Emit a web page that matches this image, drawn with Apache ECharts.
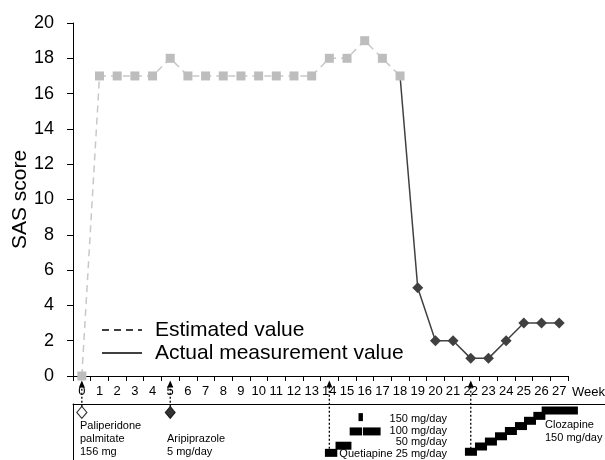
<!DOCTYPE html>
<html>
<head>
<meta charset="utf-8">
<script src="https://cdn.jsdelivr.net/npm/echarts@6/dist/echarts.min.js"></script>
<style>html,body{margin:0;padding:0;background:#fff}#c{width:605px;height:460px}</style>
</head>
<body>
<div id="c"></div>
<script>
// ---- data ----
const weeks = ['0','1','2','3','4','5','6','7','8','9','10','11','12','13','14','15','16','17','18','19','20','21','22','23','24','25','26','27'];
const estimatedSAS = [0,17,17,17,17,18,17,17,17,17,17,17,17,17,18,18,19,18,17,null,null,null,null,null,null,null,null,null];
const actualSAS = [null,null,null,null,null,null,null,null,null,null,null,null,null,null,null,null,null,null,17,5,2,2,1,1,2,3,3,3];
const yTicks = [0,2,4,6,8,10,12,14,16,18,20];
// quetiapine: [startWeek, endWeek, dose mg/day]
const quetiapine = [[13.75,14.45,25],[14.35,15.25,50],[15.15,15.85,100],[15.9,16.9,100],[15.65,15.9,150]];
// clozapine titration: [startWeek, endWeek, dose mg/day]
const clozapine = [[21.67,22.35,25],[22.24,22.92,41],[22.8,23.48,56],[23.37,24.05,72],[23.93,24.61,88],[24.5,25.18,103],[25.01,25.69,119],[25.54,26.22,134],[26.01,28.06,150]];
// drug start events: [week, filled]
const events = [[0,0],[5,1]];
// arrows: [week, fromLevel, toLevel]
const arrows = [[0,0.95,1.42],[5,0.95,1.42],[14,0.2,1.42],[22,0.2,1.42]];

const FONT = '"Liberation Sans", Arial, sans-serif';
const chart = echarts.init(document.getElementById('c'));

function barItem(params, api){
  const s = api.coord([api.value(0), api.value(2)]);
  const e = api.coord([api.value(1), api.value(2)]);
  return {type:'rect', shape:{x:s[0], y:s[1]-4, width:e[0]-s[0], height:8}, style:{fill:'#000'}};
}

const option = {
  animation:false,
  backgroundColor:'#fff',
  textStyle:{fontFamily:FONT},
  grid:[
    {left:73, right:37, top:23, bottom:84, containLabel:false, outerBoundsMode:'none'},
    {left:73, right:0, top:404, bottom:0, containLabel:false, outerBoundsMode:'none'}
  ],
  xAxis:[
    {type:'category', data:weeks, gridIndex:0, boundaryGap:true,
     axisLine:{lineStyle:{color:'#000', width:1}},
     axisTick:{show:true, inside:false, length:5, lineStyle:{color:'#000'}},
     axisLabel:{interval:0, margin:9, fontSize:13, color:'#000', fontFamily:FONT},
     splitLine:{show:false}},
    {type:'value', gridIndex:1, min:-0.5, max:-0.5+532/(495/28), position:'top',
     axisLine:{show:true, onZero:false, lineStyle:{color:'#000', width:1}},
     axisTick:{show:false}, axisLabel:{show:false}, splitLine:{show:false}}
  ],
  yAxis:[
    {type:'value', gridIndex:0, min:0, max:20, interval:2,
     name:'SAS score', nameLocation:'middle', nameGap:42, nameMoveOverlap:false,
     nameTextStyle:{fontSize:21, color:'#000', fontFamily:FONT},
     axisLine:{show:true, lineStyle:{color:'#000', width:1}},
     axisTick:{show:true, inside:false, length:6, lineStyle:{color:'#000'}},
     axisLabel:{fontSize:18, color:'#000', margin:19, fontFamily:FONT,
       formatter:v=>yTicks.includes(v)?String(v):''},
     splitLine:{show:false}},
    {type:'value', gridIndex:1, min:0, max:196, show:false},
    {type:'value', gridIndex:1, min:0, max:170, show:false},
    {type:'value', gridIndex:1, min:0, max:1, position:'left',
     axisLine:{show:true, onZero:false, lineStyle:{color:'#000', width:1}},
     axisTick:{show:false}, axisLabel:{show:false}, splitLine:{show:false}}
  ],
  series:[
    {name:'Actual measurement value', type:'line', xAxisIndex:0, yAxisIndex:0, z:2,
     data: actualSAS.map((v,i)=> i===18 ? {value:v, symbol:'none'} : v),
     symbol:'diamond', symbolSize:11, showAllSymbol:true,
     lineStyle:{color:'#404040', width:1.5},
     itemStyle:{color:'#404040'}},
    {name:'Estimated value', type:'line', xAxisIndex:0, yAxisIndex:0, z:3,
     data: estimatedSAS,
     symbol:'rect', symbolSize:9, showAllSymbol:true,
     lineStyle:{color:'#c8c8c8', width:1.5, type:[7,5]},
     itemStyle:{color:'#bdbdbd'}},
    {type:'custom', xAxisIndex:1, yAxisIndex:1, clip:false, data:quetiapine,
     encode:{x:[0,1], y:2}, renderItem:barItem},
    {type:'custom', xAxisIndex:1, yAxisIndex:2, clip:false, data:clozapine,
     encode:{x:[0,1], y:2}, renderItem:barItem},
    {type:'custom', xAxisIndex:1, yAxisIndex:3, clip:false, data:arrows, z:5,
     encode:{x:0, y:[1,2]},
     renderItem:function(params, api){
       const a = api.coord([api.value(0), api.value(1)]);
       const b = api.coord([api.value(0), api.value(2)]);
       return {type:'group', children:[
         {type:'line', shape:{x1:a[0], y1:a[1], x2:b[0], y2:b[1]+6},
          style:{stroke:'#000', lineWidth:1.3, lineDash:[2,2]}},
         {type:'polygon', shape:{points:[[b[0],b[1]],[b[0]-3,b[1]+7],[b[0]+3,b[1]+7]]},
          style:{fill:'#000'}}
       ]};
     }},
    {type:'scatter', xAxisIndex:1, yAxisIndex:3, z:6, clip:false,
     data: events.map(e=>({value:[e[0],0.85],
       itemStyle: e[1] ? {color:'#000', borderColor:'#000', borderWidth:1}
                       : {color:'#fff', borderColor:'#000', borderWidth:1.2}})),
     symbol:'diamond', symbolSize:[10,12]}
  ],
  graphic:[
    {type:'text', left:572, top:386, style:{text:'Week', font:'13px '+FONT, fill:'#000'}},
    // legend
    {type:'line', shape:{x1:102, y1:330, x2:142, y2:330}, style:{stroke:'#000', lineWidth:1.3, lineDash:[7,5]}},
    {type:'text', x:155, y:330, style:{text:'Estimated value', font:'21px '+FONT, fill:'#000', verticalAlign:'middle'}},
    {type:'line', shape:{x1:102, y1:353, x2:142, y2:353}, style:{stroke:'#000', lineWidth:1.5}},
    {type:'text', x:155, y:353, style:{text:'Actual measurement value', font:'21px '+FONT, fill:'#000', verticalAlign:'middle'}},
    // annotations
    {type:'text', x:80, y:419, style:{text:'Paliperidone\npalmitate\n156 mg', font:'11px '+FONT, lineHeight:13, fill:'#000'}},
    {type:'text', x:167, y:432, style:{text:'Aripiprazole\n5 mg/day', font:'11px '+FONT, lineHeight:13, fill:'#000'}},
    {type:'text', x:447, y:419, style:{text:'150 mg/day', font:'11px '+FONT, fill:'#000', align:'right', verticalAlign:'middle'}},
    {type:'text', x:447, y:430.5, style:{text:'100 mg/day', font:'11px '+FONT, fill:'#000', align:'right', verticalAlign:'middle'}},
    {type:'text', x:447, y:442, style:{text:'50 mg/day', font:'11px '+FONT, fill:'#000', align:'right', verticalAlign:'middle'}},
    {type:'text', x:447, y:454, style:{text:'Quetiapine 25 mg/day', font:'11px '+FONT, fill:'#000', align:'right', verticalAlign:'middle'}},
    {type:'text', x:545, y:418, style:{text:'Clozapine\n150 mg/day', font:'11px '+FONT, lineHeight:13, fill:'#000'}}
  ]
};
chart.setOption(option);
</script>
</body>
</html>
